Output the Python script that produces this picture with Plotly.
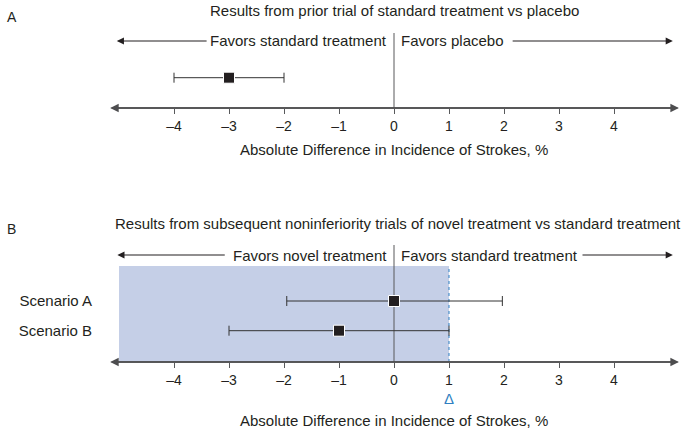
import plotly.graph_objects as go

W, H = 684, 431

# ---- data ----
trial_a_label = ["Prior trial"]
trial_a_est = [-3.0]
trial_a_lo = [-4.0]
trial_a_hi = [-2.0]

scenarios = ["Scenario A", "Scenario B"]
scen_est = [0.0, -1.0]
scen_lo = [-1.95, -3.0]
scen_hi = [1.97, 1.0]

tick_vals = [-4, -3, -2, -1, 0, 1, 2, 3, 4]
tick_text = ["–4", "–3", "–2", "–1", "0", "1", "2", "3", "4"]
margin_delta = 1.0
shade_from = -5.0

FONT = "Liberation Sans, Arial, sans-serif"
FS = 15
TXT = "#231f20"
AX = "#58595b"
BLUE = "#2f7fc1"


def py(p):  # pixel row -> paper y
    return 1 - p / H


def px(p):
    return p / W


dom_left = 93
x0_px, unit = 394, 55.0
x_range = [(dom_left - x0_px) / unit, (W - x0_px) / unit]

fig = go.Figure()

marker = dict(symbol="square", size=11, color=TXT, line=dict(color="white", width=1))


def err(est, lo, hi):
    return dict(type="data", symmetric=False,
                array=[h - e for e, h in zip(est, hi)],
                arrayminus=[e - l for e, l in zip(est, lo)],
                color="#333333", thickness=1, width=5)


fig.add_trace(go.Scatter(x=trial_a_est, y=[0], mode="markers", marker=marker,
                         error_x=err(trial_a_est, trial_a_lo, trial_a_hi),
                         xaxis="x", yaxis="y", showlegend=False, hoverinfo="skip"))
fig.add_trace(go.Scatter(x=scen_est, y=list(range(len(scenarios))), mode="markers", marker=marker,
                         error_x=err(scen_est, scen_lo, scen_hi),
                         xaxis="x2", yaxis="y2", showlegend=False, hoverinfo="skip"))

# axes
a_bottom, a_row = 108, 77.7
b_bottom, b_top = 362, 266
b_row0, row_gap = 301, 29.7
xcommon = dict(range=x_range, domain=[px(dom_left), 1], showgrid=False, zeroline=False,
               showline=False, ticks="outside", ticklen=5, tickwidth=1, tickcolor=AX,
               tickvals=tick_vals, ticktext=tick_text,
               tickfont=dict(family=FONT, size=14, color=TXT), fixedrange=True)
fig.update_layout(
    xaxis=dict(**xcommon, anchor="y"),
    xaxis2=dict(**xcommon, anchor="y2"),
    yaxis=dict(domain=[py(a_bottom), py(30)],
               range=[(a_bottom - a_row) / row_gap, -(a_row - 30) / row_gap],
               showgrid=False, zeroline=False, showticklabels=False, ticks="", anchor="x"),
    yaxis2=dict(domain=[py(b_bottom), py(b_top)],
                range=[(b_bottom - b_row0) / row_gap, -(b_row0 - b_top) / row_gap],
                tickvals=list(range(len(scenarios))), ticktext=scenarios,
                tickfont=dict(family=FONT, size=FS, color=TXT),
                showgrid=False, zeroline=False, ticks="", anchor="x2"),
)

shapes = [
    dict(type="rect", xref="x2", yref="y2 domain", x0=shade_from, x1=margin_delta, y0=0, y1=1,
         fillcolor="#c5cfe7", line=dict(width=0), layer="below"),
    dict(type="line", xref="x2", yref="y2 domain", x0=margin_delta, x1=margin_delta, y0=0, y1=1,
         line=dict(color=BLUE, width=1, dash="dot"), layer="below"),
    dict(type="line", xref="x", yref="paper", x0=0, x1=0, y0=py(a_bottom), y1=py(33),
         line=dict(color=AX, width=1), layer="below"),
    dict(type="line", xref="x2", yref="paper", x0=0, x1=0, y0=py(b_bottom), y1=py(245),
         line=dict(color=AX, width=1), layer="below"),
]
fig.update_layout(shapes=shapes)

ann = []


def arrow(xref, tip, tail, ypx, width, size=1.0, color="#3a3a3a"):
    ann.append(dict(xref=xref, yref="paper", x=tip, y=py(ypx), ax=tail, ay=0,
                    axref=xref, ayref="pixel", text="", showarrow=True,
                    arrowhead=2, arrowsize=size, arrowwidth=width, arrowcolor=color,
                    standoff=0, startstandoff=0))


def both(xref, left, right, ypx, width, size):
    arrow(xref, right, left, ypx, width, size, "#4d4d4f")
    arrow(xref, left, right, ypx, width, size, "#4d4d4f")


# axis lines with arrowheads
both("x", -5.16, 5.18, a_bottom, 1.7, 1.0)
both("x2", -5.16, 5.18, b_bottom, 1.7, 1.0)

# favour arrows
arrow("x", -5.04, -3.38, 41, 1.1, 1.3, "#231f20")
arrow("x", 5.07, 2.13, 41, 1.1, 1.3, "#231f20")
arrow("x2", -5.03, -3.05, 255, 1.1, 1.3, "#231f20")
arrow("x2", 5.07, 3.4, 255, 1.1, 1.3, "#231f20")


def text(t, x, ypx, xanchor="center", xref="paper", size=FS, color=TXT, xshift=0):
    ann.append(dict(xref=xref, yref="paper", x=x, y=py(ypx), text=t, showarrow=False,
                    xanchor=xanchor, yanchor="middle", xshift=xshift,
                    font=dict(family=FONT, size=size, color=color)))


text("Favors standard treatment", 0, 41, "right", "x", xshift=-5)
text("Favors placebo", 0, 41, "left", "x", xshift=5)
text("Favors novel treatment", 0, 255, "right", "x2", xshift=-5)
text("Favors standard treatment", 0, 255, "left", "x2", xshift=5)

text("Results from prior trial of standard treatment vs placebo", px(394), 11)
text("Results from subsequent noninferiority trials of novel treatment vs standard treatment", px(398), 223)
text("A", px(5), 17, "left", size=14)
text("B", px(5), 229, "left", size=14)
text("Absolute Difference in Incidence of Strokes, %", 0, 150, "center", "x")
text("Absolute Difference in Incidence of Strokes, %", 0, 420, "center", "x2")
text("Δ", margin_delta, 398, "center", "x2", size=15, color=BLUE)

fig.update_layout(annotations=ann, width=W, height=H,
                  margin=dict(l=0, r=0, t=0, b=0),
                  paper_bgcolor="white", plot_bgcolor="rgba(0,0,0,0)",
                  font=dict(family=FONT, size=FS, color=TXT), showlegend=False)

fig.write_html("out.html", config={"displayModeBar": False})
